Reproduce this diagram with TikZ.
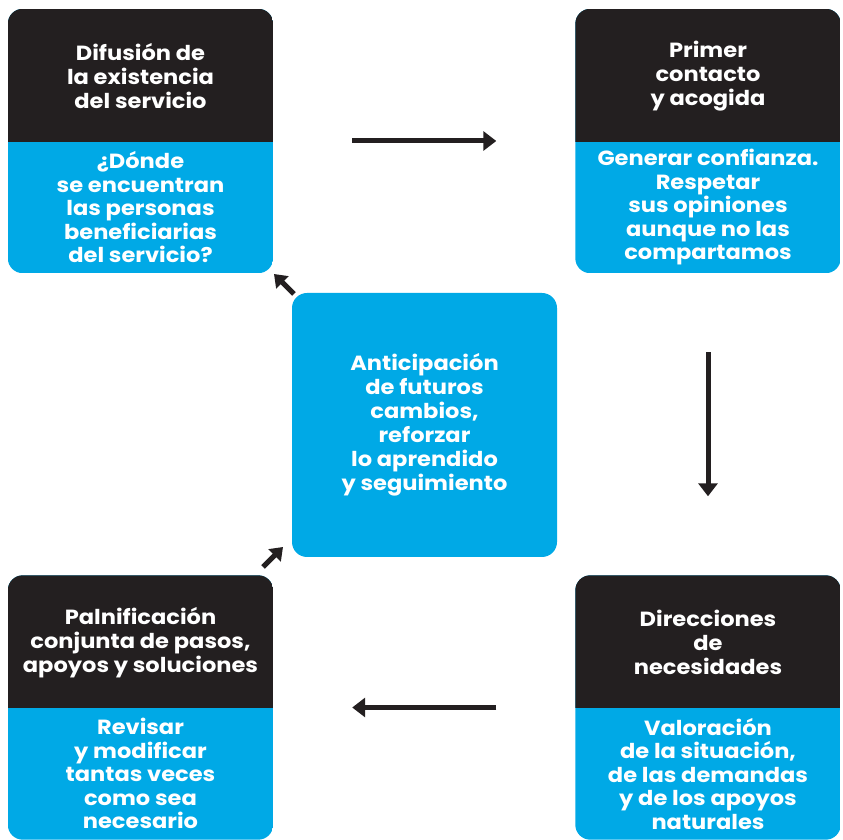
\documentclass[tikz,border=0pt]{standalone}
\usepackage{fontspec}
\setmainfont{Poppins}[FakeStretch=1.1]
\usetikzlibrary{arrows.meta}
\definecolor{mydark}{HTML}{231F20}
\definecolor{myblue}{HTML}{00A9E6}
\tikzset{
  boxshape/.style={minimum width=265pt, minimum height=264pt, inner sep=0pt},
  txt/.style={text=white, align=center, inner sep=0pt, font=\bfseries\fontsize{20.5}{23.5}\selectfont},
  arr/.style={mydark, line width=5pt, -{Triangle[length=13pt,width=19pt]}},
  darr/.style={mydark, line width=5pt, -{Triangle[length=12pt,width=17pt]}}
}
\newcommand\twotone[1]{%
  \begin{scope}
    \clip[rounded corners=15pt] (#1.south west) rectangle (#1.north east);
    \fill[myblue] (#1.south west) rectangle (#1.north east);
    \fill[mydark] ([yshift=-133pt]#1.north west) rectangle (#1.north east);
  \end{scope}}
\begin{document}
\begin{tikzpicture}[x=1pt,y=1pt]
\useasboundingbox (0,0) rectangle (843,840);
\node[boxshape] (A) at (140.5,699) {};
\node[boxshape] (B) at (708,699) {};
\node[boxshape] (C) at (140.5,132.5) {};
\node[boxshape] (D) at (708,132.5) {};
\twotone{A}\twotone{B}\twotone{C}\twotone{D}
\node[boxshape, fill=myblue, rounded corners=15pt, txt, font=\bfseries\fontsize{20.5}{24}\selectfont] (E) at (424.5,415)
  {Anticipación\\de futuros\\cambios,\\reforzar\\lo aprendido\\y seguimiento};
\node[txt, font=\bfseries\fontsize{20.5}{24}\selectfont] (At) at ([yshift=-67.5pt]A.north) {Difusión de\\la existencia\\del servicio};
\node[txt] (Ab) at ([yshift=66pt]A.south) {¿Dónde\\se encuentran\\las personas\\beneficiarias\\del servicio?};
\node[txt, font=\bfseries\fontsize{20.5}{24}\selectfont] (Bt) at ([yshift=-67.5pt]B.north) {Primer\\contacto\\y acogida};
\node[txt] (Bb) at ([yshift=66pt]B.south) {Generar confianza.\\Respetar\\sus opiniones\\aunque no las\\compartamos};
\node[txt, font=\bfseries\fontsize{20.5}{24}\selectfont] (Ct) at ([yshift=-67.5pt]C.north) {Palnificación\\conjunta de pasos,\\apoyos y soluciones};
\node[txt] (Cb) at ([yshift=66pt]C.south) {Revisar\\y modificar\\tantas veces\\como sea\\necesario};
\node[txt, font=\bfseries\fontsize{20.5}{24}\selectfont] (Dt) at ([yshift=-67.5pt]D.north) {Direcciones\\de\\necesidades};
\node[txt] (Db) at ([yshift=66pt]D.south) {Valoración\\de la situación,\\de las demandas\\y de los apoyos\\naturales};
\draw[arr, shorten <=79pt, shorten >=79pt] (A.east) -- (B.west);
\draw[arr, shorten <=79pt, shorten >=79pt] (B.south) -- (D.north);
\draw[arr, shorten <=79pt, shorten >=79pt] (D.west) -- (C.east);
\coordinate (e1) at (294,546);
\coordinate (a1) at (274,566);
\coordinate (c1) at (263,273);
\coordinate (e2) at (283,293);
\draw[darr] (e1) -- (a1);
\draw[darr] (c1) -- (e2);
\end{tikzpicture}
\end{document}
